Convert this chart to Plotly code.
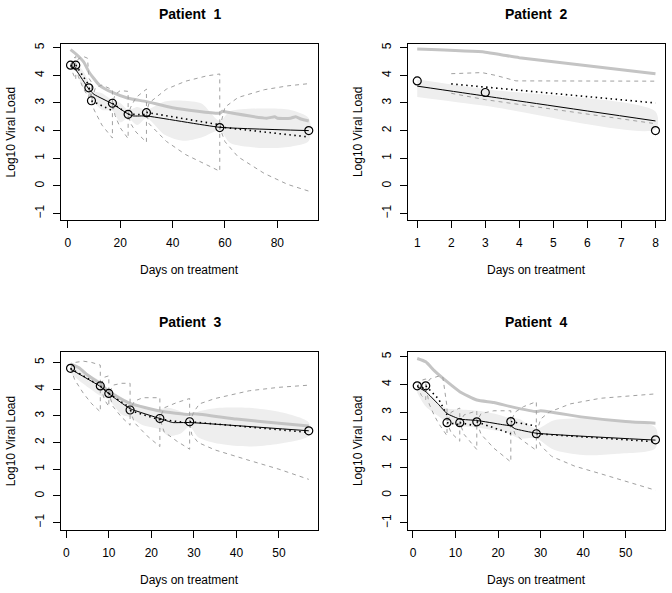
import plotly.graph_objects as go

# ---------------- Patient 1 ----------------
p1_days = [1, 3, 8, 9, 17, 23, 30, 58, 92]
p1_obs = [4.37, 4.37, 3.55, 3.08, 2.99, 2.59, 2.65, 2.11, 2.00]
p1_fit_x = [1, 3, 8, 10, 17, 23, 25, 30, 58, 92]
p1_fit_y = [4.32, 4.2, 3.5, 3.31, 2.97, 2.6, 2.53, 2.53, 2.12, 2.0]
p1_dot_x = [1, 3, None, 3, 8, None, 8, 9, None, 9, 17, None, 17, 23, None, 23, 30, None, 30, 58, None, 58, 92]
p1_dot_y = [4.37, 4.25, None, 4.37, 3.65, None, 3.55, 3.4, None, 3.08, 2.72, None, 2.99, 2.6, None, 2.59, 2.58, None, 2.66, 2.21, None, 2.13, 1.77]
p1_pop_x = [1, 3, 6, 8, 12, 17, 23, 30, 40, 58, 59, 60, 76, 79, 80, 85, 87, 89, 92]
p1_pop_y = [4.93, 4.78, 4.49, 4.13, 3.65, 3.38, 3.17, 3.05, 2.83, 2.63, 2.70, 2.68, 2.45, 2.50, 2.45, 2.45, 2.50, 2.42, 2.35]
p1_up_x = [1, 2, 3, 3, 4, 6, 7.5, 8, 9, 9, 10.5, 13, 17, 17, 18, 20, 23, 23, 24, 26, 30, 30, 31, 37.6, 45, 53, 58, 58, 60, 65, 75, 84, 92]
p1_up_y = [4.37, 4.6, 4.68, 4.37, 4.6, 4.68, 4.62, 3.9, 3.75, 3.08, 3.55, 3.65, 3.48, 2.99, 3.3, 3.45, 3.42, 2.59, 2.85, 3.2, 3.5, 2.65, 3.0, 3.5, 3.79, 3.98, 4.05, 2.11, 2.85, 3.2, 3.48, 3.62, 3.7]
p1_lo_x = [1, 2, 3, 3, 4, 6, 8, 8, 9, 9, 10, 13, 17, 17, 18, 20, 23, 23, 24, 26, 30, 30, 31, 37.6, 45, 53, 58, 58, 60, 65, 75, 84, 92]
p1_lo_y = [4.37, 4.05, 3.85, 4.37, 3.95, 3.5, 3.2, 3.55, 3.1, 3.08, 2.75, 2.2, 1.73, 2.99, 2.55, 2.1, 1.71, 2.59, 2.25, 1.95, 1.58, 2.65, 2.25, 1.61, 1.13, 0.77, 0.53, 2.11, 1.6, 1.05, 0.45, 0.05, -0.19]
p1_band_x = [1, 3, 5.5, 8, 9, 13, 17, 20, 23, 26.5, 30, 37, 44, 51, 58, 62, 75, 85, 92]
p1_band_hi = [4.45, 4.45, 4.2, 3.75, 3.45, 3.35, 3.1, 3.0, 2.75, 2.85, 2.75, 3.05, 3.08, 2.98, 2.35, 2.7, 2.8, 2.75, 2.45]
p1_band_lo = [4.2, 4.15, 3.6, 3.3, 3.15, 2.75, 2.72, 2.3, 2.45, 2.2, 2.45, 1.85, 1.63, 1.75, 2.0, 1.55, 1.37, 1.42, 1.62]

# ---------------- Patient 2 ----------------
p2_days = [1, 3, 8]
p2_obs = [3.80, 3.38, 2.00]
p2_fit_x = [1, 3, 8]
p2_fit_y = [3.61, 3.25, 2.35]
p2_dot_x = [2, 8]
p2_dot_y = [3.69, 3.0]
p2_pop_x = [1, 3, 3.5, 4, 8]
p2_pop_y = [4.95, 4.84, 4.74, 4.64, 4.06]
p2_up_x = [2, 2.9, 3.3, 3.9, 8]
p2_up_y = [4.06, 4.1, 4.0, 3.8, 3.79]
p2_lo_x = [2, 3, 8]
p2_lo_y = [3.35, 3.12, 2.25]
p2_band_x = [1, 3, 8]
p2_band_hi = [3.85, 3.5, 2.69]
p2_band_lo = [3.22, 2.9, 2.05]

# ---------------- Patient 3 ----------------
p3_days = [1, 8, 10, 15, 22, 29, 57]
p3_obs = [4.78, 4.12, 3.84, 3.22, 2.90, 2.78, 2.44]
p3_fit_x = [1, 8, 10, 15, 22, 25, 29, 57]
p3_fit_y = [4.75, 4.1, 3.83, 3.27, 2.9, 2.75, 2.75, 2.44]
p3_dot_x = [1, 8, None, 8, 10, None, 10, 15, None, 15, 22, None, 22, 29, None, 29, 57]
p3_dot_y = [4.78, 4.12, None, 4.12, 3.84, None, 3.84, 3.3, None, 3.2, 2.85, None, 2.88, 2.72, None, 2.78, 2.38]
p3_pop_x = [1, 3, 5, 8, 10, 15, 22, 29, 30, 40, 50, 57]
p3_pop_y = [4.95, 4.8, 4.53, 4.2, 3.9, 3.47, 3.18, 3.05, 3.08, 2.88, 2.72, 2.62]
p3_up_x = [1, 2, 4, 6, 8, 8, 9, 10, 10, 11, 13, 15, 15, 16, 18, 22, 22, 23, 26, 29, 29, 30, 31.3, 35, 43, 50, 57]
p3_up_y = [4.78, 5.0, 5.05, 5.0, 4.9, 4.12, 4.45, 4.5, 3.84, 4.15, 4.22, 4.22, 3.22, 3.55, 3.68, 3.68, 2.9, 3.3, 3.5, 3.65, 2.78, 3.15, 3.45, 3.65, 3.94, 4.07, 4.15]
p3_lo_x = [1, 2, 4, 6, 8, 8, 9, 10, 10, 11, 13, 15, 15, 16, 19, 22, 22, 23, 26, 29, 29, 29.5, 31, 35, 43, 50, 57]
p3_lo_y = [4.78, 4.35, 3.85, 3.45, 3.15, 4.12, 3.6, 3.35, 3.84, 3.35, 2.95, 2.65, 3.22, 2.75, 2.25, 1.85, 2.9, 2.4, 2.05, 1.75, 2.78, 2.3, 2.0, 1.72, 1.33, 1.0, 0.62]
p3_band_x = [1, 4, 8, 10, 13, 15, 18, 22, 24, 27, 29, 31, 36, 43, 50, 57]
p3_band_hi = [4.95, 4.65, 4.3, 4.0, 3.7, 3.45, 3.3, 3.25, 3.3, 3.15, 2.95, 3.15, 3.3, 3.3, 3.15, 2.75]
p3_band_lo = [4.6, 4.2, 3.75, 3.6, 3.05, 2.95, 2.65, 2.5, 2.25, 2.35, 2.6, 2.2, 1.95, 1.85, 1.95, 2.25]

# ---------------- Patient 4 ----------------
p4_days = [1, 3, 8, 11, 15, 23, 29, 57]
p4_obs = [3.95, 3.95, 2.62, 2.62, 2.65, 2.66, 2.22, 2.00]
p4_fit_x = [1, 3, 6, 8, 11, 15, 21, 23, 24, 29, 57]
p4_fit_y = [3.92, 3.74, 3.28, 2.95, 2.75, 2.7, 2.55, 2.5, 2.4, 2.24, 1.99]
p4_dot_x = [1, 3, None, 3, 6, 8, None, 8, 11, None, 11, 15, None, 15, 21.8, 23, None, 23, 29, None, 29, 57]
p4_dot_y = [3.95, 3.85, None, 3.95, 3.48, 2.9, None, 2.62, 2.55, None, 2.62, 2.5, None, 2.65, 2.28, 2.22, None, 2.66, 2.5, None, 2.22, 1.93]
p4_pop_x = [1, 3, 5, 8, 11, 15, 19, 23, 29, 30, 40, 50, 57]
p4_pop_y = [4.94, 4.82, 4.5, 4.1, 3.74, 3.44, 3.35, 3.2, 3.02, 3.05, 2.82, 2.66, 2.6]
p4_up_x = [1, 2, 3, 3, 4, 6, 7, 8, 8, 9, 11, 11, 12, 15, 15, 16, 19, 23, 23, 24, 26, 29, 29, 30, 32, 37, 44, 57]
p4_up_y = [3.95, 4.15, 4.2, 3.95, 4.2, 4.3, 4.28, 3.2, 2.62, 3.0, 3.15, 2.62, 2.9, 3.05, 2.65, 2.95, 3.05, 3.05, 2.66, 3.0, 3.2, 3.38, 2.22, 2.75, 3.0, 3.3, 3.5, 3.66]
p4_lo_x = [1, 2, 3, 3, 3.8, 5, 6, 7.3, 8, 8, 9, 11, 11, 12, 15, 15, 16, 19, 23, 23, 24, 26, 29, 29, 30, 32.6, 38, 44, 50, 57]
p4_lo_y = [3.95, 3.6, 3.45, 3.95, 3.3, 2.88, 2.6, 2.3, 2.15, 2.62, 2.25, 1.95, 2.62, 2.2, 1.65, 2.65, 2.2, 1.7, 1.2, 2.66, 2.2, 1.95, 1.62, 2.22, 1.8, 1.4, 1.05, 0.78, 0.5, 0.18]
p4_band_x = [1, 3, 6, 8, 11, 15, 19, 22, 25, 29, 33, 40, 48, 57]
p4_band_hi = [4.0, 3.8, 3.3, 3.13, 3.1, 3.06, 2.95, 2.82, 2.75, 2.4, 2.7, 2.78, 2.72, 2.45]
p4_band_lo = [3.7, 3.2, 2.85, 2.64, 2.5, 2.45, 2.35, 2.28, 2.05, 2.05, 1.65, 1.45, 1.5, 1.7]

titles = ["Patient\u00a0 1", "Patient\u00a0 2", "Patient\u00a0 3", "Patient\u00a0 4"]
xlabel = "Days on treatment"
ylabel = "Log10 Viral Load"
y_ticks = [-1, 0, 1, 2, 3, 4, 5]
x_ticks = [[0, 20, 40, 60, 80], [1, 2, 3, 4, 5, 6, 7, 8], [0, 10, 20, 30, 40, 50], [0, 10, 20, 30, 40, 50]]

patients = [
    (p1_days, p1_obs, p1_fit_x, p1_fit_y, p1_dot_x, p1_dot_y, p1_pop_x, p1_pop_y,
     p1_up_x, p1_up_y, p1_lo_x, p1_lo_y, p1_band_x, p1_band_hi, p1_band_lo),
    (p2_days, p2_obs, p2_fit_x, p2_fit_y, p2_dot_x, p2_dot_y, p2_pop_x, p2_pop_y,
     p2_up_x, p2_up_y, p2_lo_x, p2_lo_y, p2_band_x, p2_band_hi, p2_band_lo),
    (p3_days, p3_obs, p3_fit_x, p3_fit_y, p3_dot_x, p3_dot_y, p3_pop_x, p3_pop_y,
     p3_up_x, p3_up_y, p3_lo_x, p3_lo_y, p3_band_x, p3_band_hi, p3_band_lo),
    (p4_days, p4_obs, p4_fit_x, p4_fit_y, p4_dot_x, p4_dot_y, p4_pop_x, p4_pop_y,
     p4_up_x, p4_up_y, p4_lo_x, p4_lo_y, p4_band_x, p4_band_hi, p4_band_lo),
]

W, H = 672, 593
# pixel boxes (left, right, top, bottom)
boxes = [(61, 318.3, 42, 218.3), (407.7, 665, 42, 218.3),
         (61, 318.3, 351, 529.3), (407.7, 665, 351, 529.3)]
xranges = [[-2.64, 95.64], [0.72, 8.28], [-1.24, 59.24], [-1.24, 59.24]]
yranges = [[-1.22, 5.14], [-1.22, 5.14], [-1.26, 5.40], [-1.24, 5.18]]

FONT = "Liberation Sans, Arial, Helvetica, sans-serif"
fig = go.Figure()

for i, p in enumerate(patients):
    (days, obs, fx, fy, dx, dy, px, py, ux, uy, lx, ly, bx, bh, bl) = p
    xa = "x" if i == 0 else f"x{i+1}"
    ya = "y" if i == 0 else f"y{i+1}"
    # shaded band
    fig.add_trace(go.Scatter(x=bx + bx[::-1], y=bh + bl[::-1], mode="lines",
                             fill="toself", fillcolor="#eeeeee",
                             line=dict(width=0, color="#eeeeee", shape="spline", smoothing=0.8),
                             xaxis=xa, yaxis=ya, showlegend=False, hoverinfo="skip"))
    # population thick gray line
    fig.add_trace(go.Scatter(x=px, y=py, mode="lines",
                             line=dict(color="#c4c4c4", width=3, shape="spline", smoothing=0.5),
                             xaxis=xa, yaxis=ya, showlegend=False))
    # dashed limits
    for xs, ys in ((ux, uy), (lx, ly)):
        fig.add_trace(go.Scatter(x=xs, y=ys, mode="lines",
                                 line=dict(color="#a0a0a0", width=1, dash="4px,4px"),
                                 xaxis=xa, yaxis=ya, showlegend=False))
    # dotted
    fig.add_trace(go.Scatter(x=dx, y=dy, mode="lines",
                             line=dict(color="black", width=1.6, dash="1.5px,3.5px"),
                             xaxis=xa, yaxis=ya, showlegend=False, connectgaps=False))
    # solid fit
    fig.add_trace(go.Scatter(x=fx, y=fy, mode="lines",
                             line=dict(color="black", width=1, shape="spline", smoothing=0.4),
                             xaxis=xa, yaxis=ya, showlegend=False))
    # observations
    fig.add_trace(go.Scatter(x=days, y=obs, mode="markers",
                             marker=dict(symbol="circle-open", size=8, color="black",
                                         line=dict(width=1.2, color="black")),
                             xaxis=xa, yaxis=ya, showlegend=False))

layout = dict(width=W, height=H, margin=dict(l=0, r=0, t=0, b=0),
              paper_bgcolor="white", plot_bgcolor="white",
              font=dict(family=FONT, size=12, color="black"), annotations=[])

for i in range(4):
    l, r, t, b = boxes[i]
    xk = "xaxis" if i == 0 else f"xaxis{i+1}"
    yk = "yaxis" if i == 0 else f"yaxis{i+1}"
    anchor_y = "y" if i == 0 else f"y{i+1}"
    anchor_x = "x" if i == 0 else f"x{i+1}"
    layout[xk] = dict(domain=[l / W, r / W], range=xranges[i], anchor=anchor_y,
                      showgrid=False, zeroline=False, showline=True, mirror=True,
                      linecolor="black", linewidth=1, ticks="outside", ticklen=7,
                      tickcolor="black", tickvals=x_ticks[i], ticklabelstandoff=5,
                      tickfont=dict(size=12, family=FONT))
    layout[yk] = dict(domain=[1 - b / H, 1 - t / H], range=yranges[i], anchor=anchor_x,
                      showgrid=False, zeroline=False, showline=True, mirror=True,
                      linecolor="black", linewidth=1, ticks="outside", ticklen=7,
                      tickcolor="black", tickvals=y_ticks, tickangle=-90,
                      ticklabelstandoff=4, tickfont=dict(size=12, family=FONT))
    cx = (l + r) / 2
    cy = (t + b) / 2
    layout["annotations"].append(dict(text="<b>" + titles[i] + "</b>", x=cx / W, y=1 - (t - 29.5) / H,
                                      xref="paper", yref="paper", showarrow=False,
                                      font=dict(size=14, family=FONT), xanchor="center", yanchor="middle"))
    layout["annotations"].append(dict(text=xlabel, x=cx / W, y=1 - (b + 51) / H,
                                      xref="paper", yref="paper", showarrow=False,
                                      font=dict(size=12, family=FONT), xanchor="center", yanchor="middle"))
    layout["annotations"].append(dict(text=ylabel, x=(l - 50.3) / W, y=1 - cy / H,
                                      xref="paper", yref="paper", showarrow=False, textangle=-90,
                                      font=dict(size=12, family=FONT), xanchor="center", yanchor="middle"))

fig.update_layout(**layout)
fig.write_html("out.html", config={"displayModeBar": False},
               post_script="document.body.style.margin='0';document.body.style.overflow='hidden';")
